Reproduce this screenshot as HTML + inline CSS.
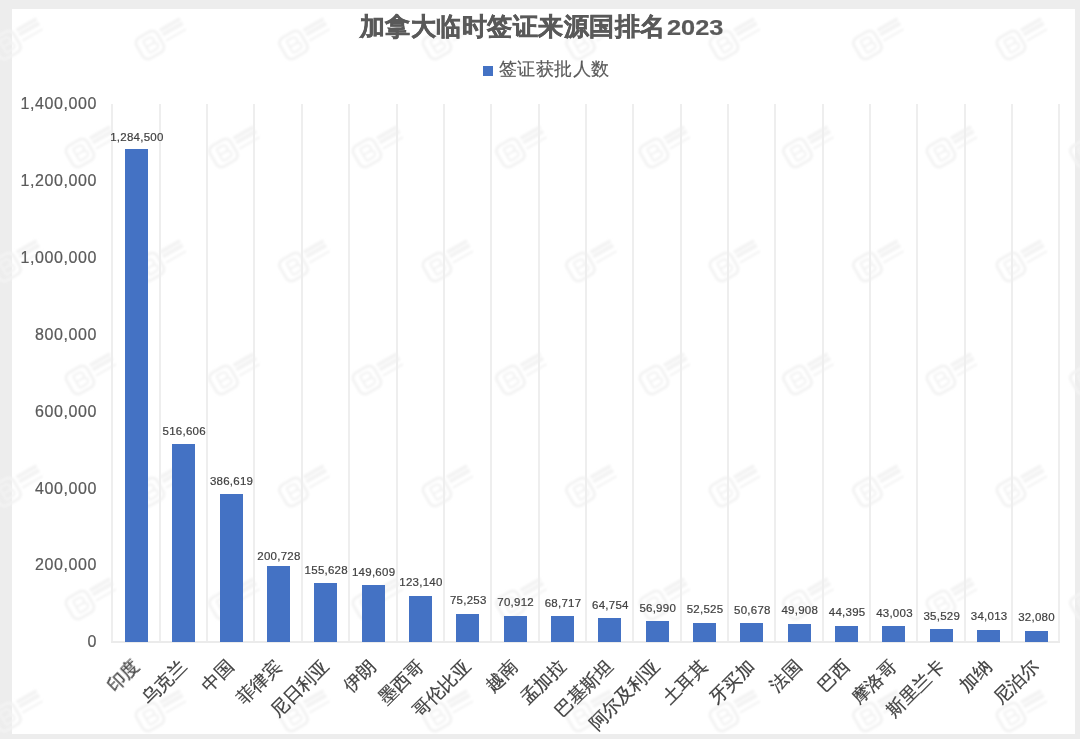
<!DOCTYPE html>
<html><head><meta charset="utf-8"><style>
html,body{margin:0;padding:0;}
body{width:1080px;height:739px;position:relative;overflow:hidden;background:#ededed;font-family:"Liberation Sans",sans-serif;}
#card{position:absolute;left:12px;top:9px;width:1063px;height:725px;background:#fff;}
#wmsvg{}
.gl{position:absolute;top:104px;height:538px;width:2px;background:#eeeeee;}
.ax{position:absolute;top:641px;height:2px;background:#ebebeb;}
.yl{position:absolute;right:983px;height:20px;line-height:20px;font-size:16px;letter-spacing:0.6px;color:#595959;text-align:right;white-space:nowrap;-webkit-text-stroke:0.2px #595959;}
.bar{position:absolute;width:23px;background:#4472c4;}
.dl{position:absolute;width:80px;text-align:center;font-size:11.5px;letter-spacing:0.25px;line-height:16px;color:#404040;white-space:nowrap;-webkit-text-stroke:0.2px #404040;}
.cl{position:absolute;font-size:18px;line-height:20px;color:#404040;white-space:nowrap;transform-origin:100% 50%;transform:rotate(-45deg);-webkit-text-stroke:0.25px #404040;}
#title{position:absolute;left:-2.4px;width:1080px;top:11px;text-align:center;font-size:25.2px;letter-spacing:0.5px;line-height:30px;font-weight:bold;color:#595959;-webkit-text-stroke:0.5px #595959;}
.yr{display:inline-block;transform:scaleX(1.18);transform-origin:0 50%;font-size:21.5px;letter-spacing:0;margin-left:1.6px;-webkit-text-stroke:0.2px #595959;}
#legend{position:absolute;left:483px;top:58.3px;font-size:18.2px;letter-spacing:0.45px;-webkit-text-stroke:0.2px #595959;line-height:22px;color:#595959;white-space:nowrap;}
#legend i{display:inline-block;width:10px;height:10px;background:#4472c4;margin-right:6px;vertical-align:-1px;}
</style></head><body>
<div id="card"></div>
<svg id="wmsvg" width="1080" height="739" style="position:absolute;left:0;top:0"><defs><filter id="bl"><feGaussianBlur stdDeviation="0.9"/></filter></defs><g fill="none" stroke="#f3f3f3" stroke-width="3.5" filter="url(#bl)"><g transform="translate(6.5,45) rotate(-30) scale(0.85)"><rect x="-14" y="-14" width="28" height="28" rx="7"/><path d="M-5,-8 V8 M-5,-8 H2 Q7,-8 7,-3 Q7,0 2,0 H-5 M2,0 Q8,0 8,4 Q8,8 2,8 H-5" stroke-width="2.5"/><path d="M19,-9 H46 M19,-3 H46" stroke-width="4.5"/><path d="M19,5 H46" stroke-width="2.5"/></g><g transform="translate(150.0,45) rotate(-30) scale(0.85)"><rect x="-14" y="-14" width="28" height="28" rx="7"/><path d="M-5,-8 V8 M-5,-8 H2 Q7,-8 7,-3 Q7,0 2,0 H-5 M2,0 Q8,0 8,4 Q8,8 2,8 H-5" stroke-width="2.5"/><path d="M19,-9 H46 M19,-3 H46" stroke-width="4.5"/><path d="M19,5 H46" stroke-width="2.5"/></g><g transform="translate(293.5,45) rotate(-30) scale(0.85)"><rect x="-14" y="-14" width="28" height="28" rx="7"/><path d="M-5,-8 V8 M-5,-8 H2 Q7,-8 7,-3 Q7,0 2,0 H-5 M2,0 Q8,0 8,4 Q8,8 2,8 H-5" stroke-width="2.5"/><path d="M19,-9 H46 M19,-3 H46" stroke-width="4.5"/><path d="M19,5 H46" stroke-width="2.5"/></g><g transform="translate(437.0,45) rotate(-30) scale(0.85)"><rect x="-14" y="-14" width="28" height="28" rx="7"/><path d="M-5,-8 V8 M-5,-8 H2 Q7,-8 7,-3 Q7,0 2,0 H-5 M2,0 Q8,0 8,4 Q8,8 2,8 H-5" stroke-width="2.5"/><path d="M19,-9 H46 M19,-3 H46" stroke-width="4.5"/><path d="M19,5 H46" stroke-width="2.5"/></g><g transform="translate(580.5,45) rotate(-30) scale(0.85)"><rect x="-14" y="-14" width="28" height="28" rx="7"/><path d="M-5,-8 V8 M-5,-8 H2 Q7,-8 7,-3 Q7,0 2,0 H-5 M2,0 Q8,0 8,4 Q8,8 2,8 H-5" stroke-width="2.5"/><path d="M19,-9 H46 M19,-3 H46" stroke-width="4.5"/><path d="M19,5 H46" stroke-width="2.5"/></g><g transform="translate(724.0,45) rotate(-30) scale(0.85)"><rect x="-14" y="-14" width="28" height="28" rx="7"/><path d="M-5,-8 V8 M-5,-8 H2 Q7,-8 7,-3 Q7,0 2,0 H-5 M2,0 Q8,0 8,4 Q8,8 2,8 H-5" stroke-width="2.5"/><path d="M19,-9 H46 M19,-3 H46" stroke-width="4.5"/><path d="M19,5 H46" stroke-width="2.5"/></g><g transform="translate(867.5,45) rotate(-30) scale(0.85)"><rect x="-14" y="-14" width="28" height="28" rx="7"/><path d="M-5,-8 V8 M-5,-8 H2 Q7,-8 7,-3 Q7,0 2,0 H-5 M2,0 Q8,0 8,4 Q8,8 2,8 H-5" stroke-width="2.5"/><path d="M19,-9 H46 M19,-3 H46" stroke-width="4.5"/><path d="M19,5 H46" stroke-width="2.5"/></g><g transform="translate(1011.0,45) rotate(-30) scale(0.85)"><rect x="-14" y="-14" width="28" height="28" rx="7"/><path d="M-5,-8 V8 M-5,-8 H2 Q7,-8 7,-3 Q7,0 2,0 H-5 M2,0 Q8,0 8,4 Q8,8 2,8 H-5" stroke-width="2.5"/><path d="M19,-9 H46 M19,-3 H46" stroke-width="4.5"/><path d="M19,5 H46" stroke-width="2.5"/></g><g transform="translate(80.0,153) rotate(-30) scale(0.85)"><rect x="-14" y="-14" width="28" height="28" rx="7"/><path d="M-5,-8 V8 M-5,-8 H2 Q7,-8 7,-3 Q7,0 2,0 H-5 M2,0 Q8,0 8,4 Q8,8 2,8 H-5" stroke-width="2.5"/><path d="M19,-9 H46 M19,-3 H46" stroke-width="4.5"/><path d="M19,5 H46" stroke-width="2.5"/></g><g transform="translate(223.5,153) rotate(-30) scale(0.85)"><rect x="-14" y="-14" width="28" height="28" rx="7"/><path d="M-5,-8 V8 M-5,-8 H2 Q7,-8 7,-3 Q7,0 2,0 H-5 M2,0 Q8,0 8,4 Q8,8 2,8 H-5" stroke-width="2.5"/><path d="M19,-9 H46 M19,-3 H46" stroke-width="4.5"/><path d="M19,5 H46" stroke-width="2.5"/></g><g transform="translate(367.0,153) rotate(-30) scale(0.85)"><rect x="-14" y="-14" width="28" height="28" rx="7"/><path d="M-5,-8 V8 M-5,-8 H2 Q7,-8 7,-3 Q7,0 2,0 H-5 M2,0 Q8,0 8,4 Q8,8 2,8 H-5" stroke-width="2.5"/><path d="M19,-9 H46 M19,-3 H46" stroke-width="4.5"/><path d="M19,5 H46" stroke-width="2.5"/></g><g transform="translate(510.5,153) rotate(-30) scale(0.85)"><rect x="-14" y="-14" width="28" height="28" rx="7"/><path d="M-5,-8 V8 M-5,-8 H2 Q7,-8 7,-3 Q7,0 2,0 H-5 M2,0 Q8,0 8,4 Q8,8 2,8 H-5" stroke-width="2.5"/><path d="M19,-9 H46 M19,-3 H46" stroke-width="4.5"/><path d="M19,5 H46" stroke-width="2.5"/></g><g transform="translate(654.0,153) rotate(-30) scale(0.85)"><rect x="-14" y="-14" width="28" height="28" rx="7"/><path d="M-5,-8 V8 M-5,-8 H2 Q7,-8 7,-3 Q7,0 2,0 H-5 M2,0 Q8,0 8,4 Q8,8 2,8 H-5" stroke-width="2.5"/><path d="M19,-9 H46 M19,-3 H46" stroke-width="4.5"/><path d="M19,5 H46" stroke-width="2.5"/></g><g transform="translate(797.5,153) rotate(-30) scale(0.85)"><rect x="-14" y="-14" width="28" height="28" rx="7"/><path d="M-5,-8 V8 M-5,-8 H2 Q7,-8 7,-3 Q7,0 2,0 H-5 M2,0 Q8,0 8,4 Q8,8 2,8 H-5" stroke-width="2.5"/><path d="M19,-9 H46 M19,-3 H46" stroke-width="4.5"/><path d="M19,5 H46" stroke-width="2.5"/></g><g transform="translate(941.0,153) rotate(-30) scale(0.85)"><rect x="-14" y="-14" width="28" height="28" rx="7"/><path d="M-5,-8 V8 M-5,-8 H2 Q7,-8 7,-3 Q7,0 2,0 H-5 M2,0 Q8,0 8,4 Q8,8 2,8 H-5" stroke-width="2.5"/><path d="M19,-9 H46 M19,-3 H46" stroke-width="4.5"/><path d="M19,5 H46" stroke-width="2.5"/></g><g transform="translate(1084.5,153) rotate(-30) scale(0.85)"><rect x="-14" y="-14" width="28" height="28" rx="7"/><path d="M-5,-8 V8 M-5,-8 H2 Q7,-8 7,-3 Q7,0 2,0 H-5 M2,0 Q8,0 8,4 Q8,8 2,8 H-5" stroke-width="2.5"/><path d="M19,-9 H46 M19,-3 H46" stroke-width="4.5"/><path d="M19,5 H46" stroke-width="2.5"/></g><g transform="translate(6.5,267) rotate(-30) scale(0.85)"><rect x="-14" y="-14" width="28" height="28" rx="7"/><path d="M-5,-8 V8 M-5,-8 H2 Q7,-8 7,-3 Q7,0 2,0 H-5 M2,0 Q8,0 8,4 Q8,8 2,8 H-5" stroke-width="2.5"/><path d="M19,-9 H46 M19,-3 H46" stroke-width="4.5"/><path d="M19,5 H46" stroke-width="2.5"/></g><g transform="translate(150.0,267) rotate(-30) scale(0.85)"><rect x="-14" y="-14" width="28" height="28" rx="7"/><path d="M-5,-8 V8 M-5,-8 H2 Q7,-8 7,-3 Q7,0 2,0 H-5 M2,0 Q8,0 8,4 Q8,8 2,8 H-5" stroke-width="2.5"/><path d="M19,-9 H46 M19,-3 H46" stroke-width="4.5"/><path d="M19,5 H46" stroke-width="2.5"/></g><g transform="translate(293.5,267) rotate(-30) scale(0.85)"><rect x="-14" y="-14" width="28" height="28" rx="7"/><path d="M-5,-8 V8 M-5,-8 H2 Q7,-8 7,-3 Q7,0 2,0 H-5 M2,0 Q8,0 8,4 Q8,8 2,8 H-5" stroke-width="2.5"/><path d="M19,-9 H46 M19,-3 H46" stroke-width="4.5"/><path d="M19,5 H46" stroke-width="2.5"/></g><g transform="translate(437.0,267) rotate(-30) scale(0.85)"><rect x="-14" y="-14" width="28" height="28" rx="7"/><path d="M-5,-8 V8 M-5,-8 H2 Q7,-8 7,-3 Q7,0 2,0 H-5 M2,0 Q8,0 8,4 Q8,8 2,8 H-5" stroke-width="2.5"/><path d="M19,-9 H46 M19,-3 H46" stroke-width="4.5"/><path d="M19,5 H46" stroke-width="2.5"/></g><g transform="translate(580.5,267) rotate(-30) scale(0.85)"><rect x="-14" y="-14" width="28" height="28" rx="7"/><path d="M-5,-8 V8 M-5,-8 H2 Q7,-8 7,-3 Q7,0 2,0 H-5 M2,0 Q8,0 8,4 Q8,8 2,8 H-5" stroke-width="2.5"/><path d="M19,-9 H46 M19,-3 H46" stroke-width="4.5"/><path d="M19,5 H46" stroke-width="2.5"/></g><g transform="translate(724.0,267) rotate(-30) scale(0.85)"><rect x="-14" y="-14" width="28" height="28" rx="7"/><path d="M-5,-8 V8 M-5,-8 H2 Q7,-8 7,-3 Q7,0 2,0 H-5 M2,0 Q8,0 8,4 Q8,8 2,8 H-5" stroke-width="2.5"/><path d="M19,-9 H46 M19,-3 H46" stroke-width="4.5"/><path d="M19,5 H46" stroke-width="2.5"/></g><g transform="translate(867.5,267) rotate(-30) scale(0.85)"><rect x="-14" y="-14" width="28" height="28" rx="7"/><path d="M-5,-8 V8 M-5,-8 H2 Q7,-8 7,-3 Q7,0 2,0 H-5 M2,0 Q8,0 8,4 Q8,8 2,8 H-5" stroke-width="2.5"/><path d="M19,-9 H46 M19,-3 H46" stroke-width="4.5"/><path d="M19,5 H46" stroke-width="2.5"/></g><g transform="translate(1011.0,267) rotate(-30) scale(0.85)"><rect x="-14" y="-14" width="28" height="28" rx="7"/><path d="M-5,-8 V8 M-5,-8 H2 Q7,-8 7,-3 Q7,0 2,0 H-5 M2,0 Q8,0 8,4 Q8,8 2,8 H-5" stroke-width="2.5"/><path d="M19,-9 H46 M19,-3 H46" stroke-width="4.5"/><path d="M19,5 H46" stroke-width="2.5"/></g><g transform="translate(80.0,380) rotate(-30) scale(0.85)"><rect x="-14" y="-14" width="28" height="28" rx="7"/><path d="M-5,-8 V8 M-5,-8 H2 Q7,-8 7,-3 Q7,0 2,0 H-5 M2,0 Q8,0 8,4 Q8,8 2,8 H-5" stroke-width="2.5"/><path d="M19,-9 H46 M19,-3 H46" stroke-width="4.5"/><path d="M19,5 H46" stroke-width="2.5"/></g><g transform="translate(223.5,380) rotate(-30) scale(0.85)"><rect x="-14" y="-14" width="28" height="28" rx="7"/><path d="M-5,-8 V8 M-5,-8 H2 Q7,-8 7,-3 Q7,0 2,0 H-5 M2,0 Q8,0 8,4 Q8,8 2,8 H-5" stroke-width="2.5"/><path d="M19,-9 H46 M19,-3 H46" stroke-width="4.5"/><path d="M19,5 H46" stroke-width="2.5"/></g><g transform="translate(367.0,380) rotate(-30) scale(0.85)"><rect x="-14" y="-14" width="28" height="28" rx="7"/><path d="M-5,-8 V8 M-5,-8 H2 Q7,-8 7,-3 Q7,0 2,0 H-5 M2,0 Q8,0 8,4 Q8,8 2,8 H-5" stroke-width="2.5"/><path d="M19,-9 H46 M19,-3 H46" stroke-width="4.5"/><path d="M19,5 H46" stroke-width="2.5"/></g><g transform="translate(510.5,380) rotate(-30) scale(0.85)"><rect x="-14" y="-14" width="28" height="28" rx="7"/><path d="M-5,-8 V8 M-5,-8 H2 Q7,-8 7,-3 Q7,0 2,0 H-5 M2,0 Q8,0 8,4 Q8,8 2,8 H-5" stroke-width="2.5"/><path d="M19,-9 H46 M19,-3 H46" stroke-width="4.5"/><path d="M19,5 H46" stroke-width="2.5"/></g><g transform="translate(654.0,380) rotate(-30) scale(0.85)"><rect x="-14" y="-14" width="28" height="28" rx="7"/><path d="M-5,-8 V8 M-5,-8 H2 Q7,-8 7,-3 Q7,0 2,0 H-5 M2,0 Q8,0 8,4 Q8,8 2,8 H-5" stroke-width="2.5"/><path d="M19,-9 H46 M19,-3 H46" stroke-width="4.5"/><path d="M19,5 H46" stroke-width="2.5"/></g><g transform="translate(797.5,380) rotate(-30) scale(0.85)"><rect x="-14" y="-14" width="28" height="28" rx="7"/><path d="M-5,-8 V8 M-5,-8 H2 Q7,-8 7,-3 Q7,0 2,0 H-5 M2,0 Q8,0 8,4 Q8,8 2,8 H-5" stroke-width="2.5"/><path d="M19,-9 H46 M19,-3 H46" stroke-width="4.5"/><path d="M19,5 H46" stroke-width="2.5"/></g><g transform="translate(941.0,380) rotate(-30) scale(0.85)"><rect x="-14" y="-14" width="28" height="28" rx="7"/><path d="M-5,-8 V8 M-5,-8 H2 Q7,-8 7,-3 Q7,0 2,0 H-5 M2,0 Q8,0 8,4 Q8,8 2,8 H-5" stroke-width="2.5"/><path d="M19,-9 H46 M19,-3 H46" stroke-width="4.5"/><path d="M19,5 H46" stroke-width="2.5"/></g><g transform="translate(1084.5,380) rotate(-30) scale(0.85)"><rect x="-14" y="-14" width="28" height="28" rx="7"/><path d="M-5,-8 V8 M-5,-8 H2 Q7,-8 7,-3 Q7,0 2,0 H-5 M2,0 Q8,0 8,4 Q8,8 2,8 H-5" stroke-width="2.5"/><path d="M19,-9 H46 M19,-3 H46" stroke-width="4.5"/><path d="M19,5 H46" stroke-width="2.5"/></g><g transform="translate(6.5,492) rotate(-30) scale(0.85)"><rect x="-14" y="-14" width="28" height="28" rx="7"/><path d="M-5,-8 V8 M-5,-8 H2 Q7,-8 7,-3 Q7,0 2,0 H-5 M2,0 Q8,0 8,4 Q8,8 2,8 H-5" stroke-width="2.5"/><path d="M19,-9 H46 M19,-3 H46" stroke-width="4.5"/><path d="M19,5 H46" stroke-width="2.5"/></g><g transform="translate(150.0,492) rotate(-30) scale(0.85)"><rect x="-14" y="-14" width="28" height="28" rx="7"/><path d="M-5,-8 V8 M-5,-8 H2 Q7,-8 7,-3 Q7,0 2,0 H-5 M2,0 Q8,0 8,4 Q8,8 2,8 H-5" stroke-width="2.5"/><path d="M19,-9 H46 M19,-3 H46" stroke-width="4.5"/><path d="M19,5 H46" stroke-width="2.5"/></g><g transform="translate(293.5,492) rotate(-30) scale(0.85)"><rect x="-14" y="-14" width="28" height="28" rx="7"/><path d="M-5,-8 V8 M-5,-8 H2 Q7,-8 7,-3 Q7,0 2,0 H-5 M2,0 Q8,0 8,4 Q8,8 2,8 H-5" stroke-width="2.5"/><path d="M19,-9 H46 M19,-3 H46" stroke-width="4.5"/><path d="M19,5 H46" stroke-width="2.5"/></g><g transform="translate(437.0,492) rotate(-30) scale(0.85)"><rect x="-14" y="-14" width="28" height="28" rx="7"/><path d="M-5,-8 V8 M-5,-8 H2 Q7,-8 7,-3 Q7,0 2,0 H-5 M2,0 Q8,0 8,4 Q8,8 2,8 H-5" stroke-width="2.5"/><path d="M19,-9 H46 M19,-3 H46" stroke-width="4.5"/><path d="M19,5 H46" stroke-width="2.5"/></g><g transform="translate(580.5,492) rotate(-30) scale(0.85)"><rect x="-14" y="-14" width="28" height="28" rx="7"/><path d="M-5,-8 V8 M-5,-8 H2 Q7,-8 7,-3 Q7,0 2,0 H-5 M2,0 Q8,0 8,4 Q8,8 2,8 H-5" stroke-width="2.5"/><path d="M19,-9 H46 M19,-3 H46" stroke-width="4.5"/><path d="M19,5 H46" stroke-width="2.5"/></g><g transform="translate(724.0,492) rotate(-30) scale(0.85)"><rect x="-14" y="-14" width="28" height="28" rx="7"/><path d="M-5,-8 V8 M-5,-8 H2 Q7,-8 7,-3 Q7,0 2,0 H-5 M2,0 Q8,0 8,4 Q8,8 2,8 H-5" stroke-width="2.5"/><path d="M19,-9 H46 M19,-3 H46" stroke-width="4.5"/><path d="M19,5 H46" stroke-width="2.5"/></g><g transform="translate(867.5,492) rotate(-30) scale(0.85)"><rect x="-14" y="-14" width="28" height="28" rx="7"/><path d="M-5,-8 V8 M-5,-8 H2 Q7,-8 7,-3 Q7,0 2,0 H-5 M2,0 Q8,0 8,4 Q8,8 2,8 H-5" stroke-width="2.5"/><path d="M19,-9 H46 M19,-3 H46" stroke-width="4.5"/><path d="M19,5 H46" stroke-width="2.5"/></g><g transform="translate(1011.0,492) rotate(-30) scale(0.85)"><rect x="-14" y="-14" width="28" height="28" rx="7"/><path d="M-5,-8 V8 M-5,-8 H2 Q7,-8 7,-3 Q7,0 2,0 H-5 M2,0 Q8,0 8,4 Q8,8 2,8 H-5" stroke-width="2.5"/><path d="M19,-9 H46 M19,-3 H46" stroke-width="4.5"/><path d="M19,5 H46" stroke-width="2.5"/></g><g transform="translate(80.0,605) rotate(-30) scale(0.85)"><rect x="-14" y="-14" width="28" height="28" rx="7"/><path d="M-5,-8 V8 M-5,-8 H2 Q7,-8 7,-3 Q7,0 2,0 H-5 M2,0 Q8,0 8,4 Q8,8 2,8 H-5" stroke-width="2.5"/><path d="M19,-9 H46 M19,-3 H46" stroke-width="4.5"/><path d="M19,5 H46" stroke-width="2.5"/></g><g transform="translate(223.5,605) rotate(-30) scale(0.85)"><rect x="-14" y="-14" width="28" height="28" rx="7"/><path d="M-5,-8 V8 M-5,-8 H2 Q7,-8 7,-3 Q7,0 2,0 H-5 M2,0 Q8,0 8,4 Q8,8 2,8 H-5" stroke-width="2.5"/><path d="M19,-9 H46 M19,-3 H46" stroke-width="4.5"/><path d="M19,5 H46" stroke-width="2.5"/></g><g transform="translate(367.0,605) rotate(-30) scale(0.85)"><rect x="-14" y="-14" width="28" height="28" rx="7"/><path d="M-5,-8 V8 M-5,-8 H2 Q7,-8 7,-3 Q7,0 2,0 H-5 M2,0 Q8,0 8,4 Q8,8 2,8 H-5" stroke-width="2.5"/><path d="M19,-9 H46 M19,-3 H46" stroke-width="4.5"/><path d="M19,5 H46" stroke-width="2.5"/></g><g transform="translate(510.5,605) rotate(-30) scale(0.85)"><rect x="-14" y="-14" width="28" height="28" rx="7"/><path d="M-5,-8 V8 M-5,-8 H2 Q7,-8 7,-3 Q7,0 2,0 H-5 M2,0 Q8,0 8,4 Q8,8 2,8 H-5" stroke-width="2.5"/><path d="M19,-9 H46 M19,-3 H46" stroke-width="4.5"/><path d="M19,5 H46" stroke-width="2.5"/></g><g transform="translate(654.0,605) rotate(-30) scale(0.85)"><rect x="-14" y="-14" width="28" height="28" rx="7"/><path d="M-5,-8 V8 M-5,-8 H2 Q7,-8 7,-3 Q7,0 2,0 H-5 M2,0 Q8,0 8,4 Q8,8 2,8 H-5" stroke-width="2.5"/><path d="M19,-9 H46 M19,-3 H46" stroke-width="4.5"/><path d="M19,5 H46" stroke-width="2.5"/></g><g transform="translate(797.5,605) rotate(-30) scale(0.85)"><rect x="-14" y="-14" width="28" height="28" rx="7"/><path d="M-5,-8 V8 M-5,-8 H2 Q7,-8 7,-3 Q7,0 2,0 H-5 M2,0 Q8,0 8,4 Q8,8 2,8 H-5" stroke-width="2.5"/><path d="M19,-9 H46 M19,-3 H46" stroke-width="4.5"/><path d="M19,5 H46" stroke-width="2.5"/></g><g transform="translate(941.0,605) rotate(-30) scale(0.85)"><rect x="-14" y="-14" width="28" height="28" rx="7"/><path d="M-5,-8 V8 M-5,-8 H2 Q7,-8 7,-3 Q7,0 2,0 H-5 M2,0 Q8,0 8,4 Q8,8 2,8 H-5" stroke-width="2.5"/><path d="M19,-9 H46 M19,-3 H46" stroke-width="4.5"/><path d="M19,5 H46" stroke-width="2.5"/></g><g transform="translate(1084.5,605) rotate(-30) scale(0.85)"><rect x="-14" y="-14" width="28" height="28" rx="7"/><path d="M-5,-8 V8 M-5,-8 H2 Q7,-8 7,-3 Q7,0 2,0 H-5 M2,0 Q8,0 8,4 Q8,8 2,8 H-5" stroke-width="2.5"/><path d="M19,-9 H46 M19,-3 H46" stroke-width="4.5"/><path d="M19,5 H46" stroke-width="2.5"/></g><g transform="translate(6.5,717) rotate(-30) scale(0.85)"><rect x="-14" y="-14" width="28" height="28" rx="7"/><path d="M-5,-8 V8 M-5,-8 H2 Q7,-8 7,-3 Q7,0 2,0 H-5 M2,0 Q8,0 8,4 Q8,8 2,8 H-5" stroke-width="2.5"/><path d="M19,-9 H46 M19,-3 H46" stroke-width="4.5"/><path d="M19,5 H46" stroke-width="2.5"/></g><g transform="translate(150.0,717) rotate(-30) scale(0.85)"><rect x="-14" y="-14" width="28" height="28" rx="7"/><path d="M-5,-8 V8 M-5,-8 H2 Q7,-8 7,-3 Q7,0 2,0 H-5 M2,0 Q8,0 8,4 Q8,8 2,8 H-5" stroke-width="2.5"/><path d="M19,-9 H46 M19,-3 H46" stroke-width="4.5"/><path d="M19,5 H46" stroke-width="2.5"/></g><g transform="translate(293.5,717) rotate(-30) scale(0.85)"><rect x="-14" y="-14" width="28" height="28" rx="7"/><path d="M-5,-8 V8 M-5,-8 H2 Q7,-8 7,-3 Q7,0 2,0 H-5 M2,0 Q8,0 8,4 Q8,8 2,8 H-5" stroke-width="2.5"/><path d="M19,-9 H46 M19,-3 H46" stroke-width="4.5"/><path d="M19,5 H46" stroke-width="2.5"/></g><g transform="translate(437.0,717) rotate(-30) scale(0.85)"><rect x="-14" y="-14" width="28" height="28" rx="7"/><path d="M-5,-8 V8 M-5,-8 H2 Q7,-8 7,-3 Q7,0 2,0 H-5 M2,0 Q8,0 8,4 Q8,8 2,8 H-5" stroke-width="2.5"/><path d="M19,-9 H46 M19,-3 H46" stroke-width="4.5"/><path d="M19,5 H46" stroke-width="2.5"/></g><g transform="translate(580.5,717) rotate(-30) scale(0.85)"><rect x="-14" y="-14" width="28" height="28" rx="7"/><path d="M-5,-8 V8 M-5,-8 H2 Q7,-8 7,-3 Q7,0 2,0 H-5 M2,0 Q8,0 8,4 Q8,8 2,8 H-5" stroke-width="2.5"/><path d="M19,-9 H46 M19,-3 H46" stroke-width="4.5"/><path d="M19,5 H46" stroke-width="2.5"/></g><g transform="translate(724.0,717) rotate(-30) scale(0.85)"><rect x="-14" y="-14" width="28" height="28" rx="7"/><path d="M-5,-8 V8 M-5,-8 H2 Q7,-8 7,-3 Q7,0 2,0 H-5 M2,0 Q8,0 8,4 Q8,8 2,8 H-5" stroke-width="2.5"/><path d="M19,-9 H46 M19,-3 H46" stroke-width="4.5"/><path d="M19,5 H46" stroke-width="2.5"/></g><g transform="translate(867.5,717) rotate(-30) scale(0.85)"><rect x="-14" y="-14" width="28" height="28" rx="7"/><path d="M-5,-8 V8 M-5,-8 H2 Q7,-8 7,-3 Q7,0 2,0 H-5 M2,0 Q8,0 8,4 Q8,8 2,8 H-5" stroke-width="2.5"/><path d="M19,-9 H46 M19,-3 H46" stroke-width="4.5"/><path d="M19,5 H46" stroke-width="2.5"/></g><g transform="translate(1011.0,717) rotate(-30) scale(0.85)"><rect x="-14" y="-14" width="28" height="28" rx="7"/><path d="M-5,-8 V8 M-5,-8 H2 Q7,-8 7,-3 Q7,0 2,0 H-5 M2,0 Q8,0 8,4 Q8,8 2,8 H-5" stroke-width="2.5"/><path d="M19,-9 H46 M19,-3 H46" stroke-width="4.5"/><path d="M19,5 H46" stroke-width="2.5"/></g></g></svg>
<div class="gl" style="left:111.40px"></div>
<div class="gl" style="left:158.75px"></div>
<div class="gl" style="left:206.10px"></div>
<div class="gl" style="left:253.45px"></div>
<div class="gl" style="left:300.80px"></div>
<div class="gl" style="left:348.15px"></div>
<div class="gl" style="left:395.50px"></div>
<div class="gl" style="left:442.85px"></div>
<div class="gl" style="left:490.20px"></div>
<div class="gl" style="left:537.55px"></div>
<div class="gl" style="left:584.90px"></div>
<div class="gl" style="left:632.25px"></div>
<div class="gl" style="left:679.60px"></div>
<div class="gl" style="left:726.95px"></div>
<div class="gl" style="left:774.30px"></div>
<div class="gl" style="left:821.65px"></div>
<div class="gl" style="left:869.00px"></div>
<div class="gl" style="left:916.35px"></div>
<div class="gl" style="left:963.70px"></div>
<div class="gl" style="left:1011.05px"></div>
<div class="gl" style="left:1058.40px"></div>
<div class="ax" style="left:111.40px;width:949.00px"></div>
<div class="yl" style="top:632.30px">0</div>
<div class="yl" style="top:555.44px">200,000</div>
<div class="yl" style="top:478.58px">400,000</div>
<div class="yl" style="top:401.72px">600,000</div>
<div class="yl" style="top:324.86px">800,000</div>
<div class="yl" style="top:248.00px">1,000,000</div>
<div class="yl" style="top:171.14px">1,200,000</div>
<div class="yl" style="top:94.28px">1,400,000</div>
<div class="bar" style="left:124.88px;top:149.27px;height:492.63px"></div>
<div class="dl" style="left:96.88px;top:129.17px">1,284,500</div>
<div class="cl" style="right:944.42px;top:653.3px">印度</div>
<div class="bar" style="left:172.23px;top:444.37px;height:197.53px"></div>
<div class="dl" style="left:144.23px;top:422.87px">516,606</div>
<div class="cl" style="right:897.08px;top:653.3px">乌克兰</div>
<div class="bar" style="left:219.58px;top:494.32px;height:147.58px"></div>
<div class="dl" style="left:191.58px;top:472.82px">386,619</div>
<div class="cl" style="right:849.73px;top:653.3px">中国</div>
<div class="bar" style="left:266.93px;top:565.76px;height:76.14px"></div>
<div class="dl" style="left:238.93px;top:548.26px">200,728</div>
<div class="cl" style="right:802.38px;top:653.3px">菲律宾</div>
<div class="bar" style="left:314.28px;top:583.09px;height:58.81px"></div>
<div class="dl" style="left:286.28px;top:561.59px">155,628</div>
<div class="cl" style="right:755.02px;top:653.3px">尼日利亚</div>
<div class="bar" style="left:361.63px;top:585.41px;height:56.49px"></div>
<div class="dl" style="left:333.63px;top:563.91px">149,609</div>
<div class="cl" style="right:707.67px;top:653.3px">伊朗</div>
<div class="bar" style="left:408.98px;top:595.58px;height:46.32px"></div>
<div class="dl" style="left:380.98px;top:574.08px">123,140</div>
<div class="cl" style="right:660.32px;top:653.3px">墨西哥</div>
<div class="bar" style="left:456.32px;top:613.98px;height:27.92px"></div>
<div class="dl" style="left:428.32px;top:592.48px">75,253</div>
<div class="cl" style="right:612.98px;top:653.3px">哥伦比亚</div>
<div class="bar" style="left:503.68px;top:615.65px;height:26.25px"></div>
<div class="dl" style="left:475.68px;top:594.15px">70,912</div>
<div class="cl" style="right:565.62px;top:653.3px">越南</div>
<div class="bar" style="left:551.02px;top:616.49px;height:25.41px"></div>
<div class="dl" style="left:523.02px;top:594.99px">68,717</div>
<div class="cl" style="right:518.27px;top:653.3px">孟加拉</div>
<div class="bar" style="left:598.38px;top:618.02px;height:23.88px"></div>
<div class="dl" style="left:570.38px;top:596.52px">64,754</div>
<div class="cl" style="right:470.92px;top:653.3px">巴基斯坦</div>
<div class="bar" style="left:645.72px;top:621.00px;height:20.90px"></div>
<div class="dl" style="left:617.72px;top:599.50px">56,990</div>
<div class="cl" style="right:423.58px;top:653.3px">阿尔及利亚</div>
<div class="bar" style="left:693.07px;top:622.71px;height:19.19px"></div>
<div class="dl" style="left:665.07px;top:601.21px">52,525</div>
<div class="cl" style="right:376.23px;top:653.3px">土耳其</div>
<div class="bar" style="left:740.42px;top:623.42px;height:18.48px"></div>
<div class="dl" style="left:712.42px;top:601.92px">50,678</div>
<div class="cl" style="right:328.88px;top:653.3px">牙买加</div>
<div class="bar" style="left:787.77px;top:623.72px;height:18.18px"></div>
<div class="dl" style="left:759.77px;top:602.22px">49,908</div>
<div class="cl" style="right:281.52px;top:653.3px">法国</div>
<div class="bar" style="left:835.12px;top:625.84px;height:16.06px"></div>
<div class="dl" style="left:807.12px;top:604.34px">44,395</div>
<div class="cl" style="right:234.17px;top:653.3px">巴西</div>
<div class="bar" style="left:882.47px;top:626.37px;height:15.53px"></div>
<div class="dl" style="left:854.47px;top:604.87px">43,003</div>
<div class="cl" style="right:186.83px;top:653.3px">摩洛哥</div>
<div class="bar" style="left:929.82px;top:629.25px;height:12.65px"></div>
<div class="dl" style="left:901.82px;top:607.75px">35,529</div>
<div class="cl" style="right:139.48px;top:653.3px">斯里兰卡</div>
<div class="bar" style="left:977.17px;top:629.83px;height:12.07px"></div>
<div class="dl" style="left:949.17px;top:608.33px">34,013</div>
<div class="cl" style="right:92.12px;top:653.3px">加纳</div>
<div class="bar" style="left:1024.53px;top:630.57px;height:11.33px"></div>
<div class="dl" style="left:996.53px;top:609.07px">32,080</div>
<div class="cl" style="right:44.77px;top:653.3px">尼泊尔</div>
<div id="title">加拿大临时签证来源国排名<span class="yr">2023</span></div>
<div id="legend"><i></i>签证获批人数</div>
</body></html>
